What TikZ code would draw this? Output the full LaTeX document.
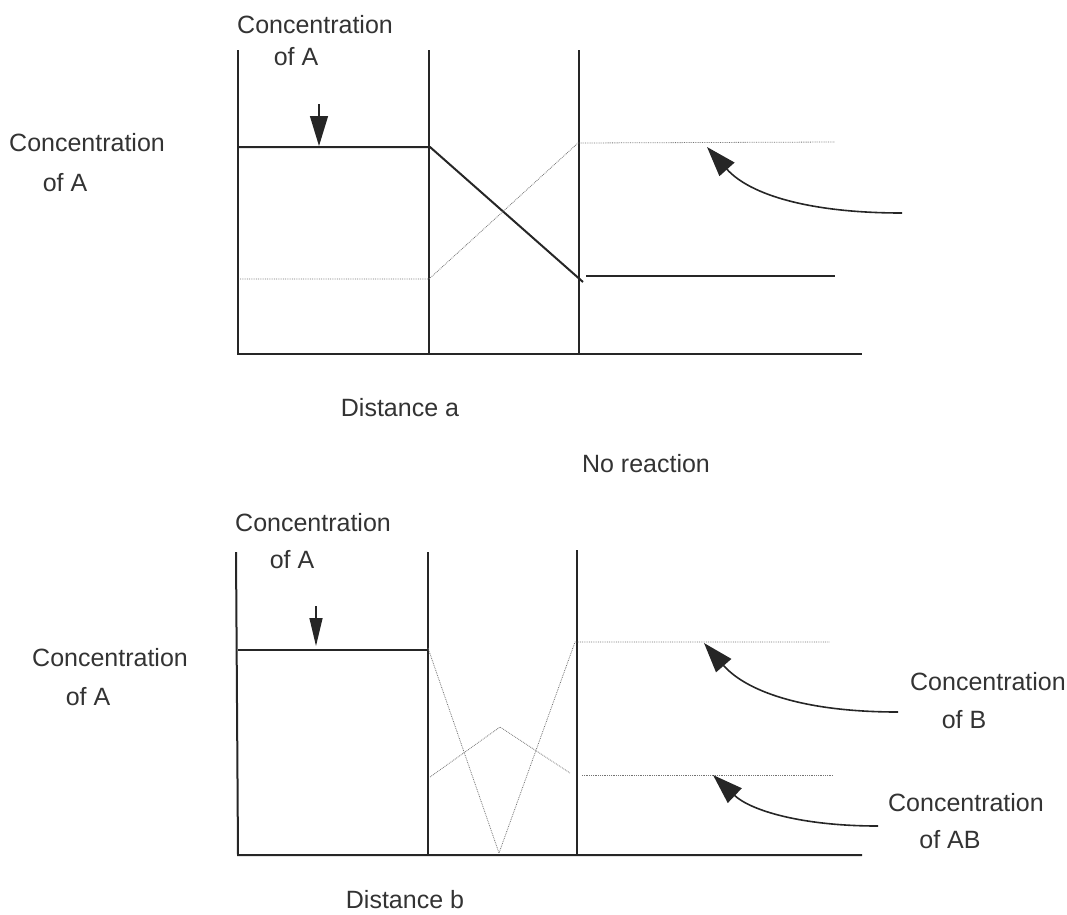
\documentclass[tikz,border=0pt]{standalone}
\usepackage{fontspec}
\setmainfont{Liberation Sans}
\usetikzlibrary{arrows.meta}
\begin{document}
\begin{tikzpicture}[x=1pt,y=-1pt,
  axis/.style={line width=2pt,black!85},
  level/.style={line width=2pt,black!85},
  dotline/.style={line width=0.8pt,black!55,densely dotted},
  lbl/.style={text=black!80,font=\fontsize{25}{29}\selectfont,inner sep=0pt},
  downarrow/.style={line width=1.3pt,black!85,-{Triangle[length=30pt,width=18pt]}},
  smalldown/.style={line width=1.3pt,black!85,-{Triangle[length=28pt,width=13pt]}},
  curvearrow/.style={line width=1.6pt,black!85,-{Triangle[length=30pt,width=20pt]}}]
\useasboundingbox (0,0) rectangle (1067,914);
% ---------------- top panel ----------------
\draw[axis] (238,50) -- (238,354) -- (862,354);
\draw[axis] (429,50) -- (429,354);
\draw[axis] (579,50) -- (579,354);
\draw[level] (238,147) -- (430,147) -- (583,282);
\draw[level] (586,276) -- (835,276);
\draw[dotline] (240,279) -- (429,279) -- (578,143) -- (835,142);
\draw[downarrow] (319,104) -- (319,146);
\coordinate (ta1) at (902,213);
\coordinate (ha1) at (707,147);
\draw[curvearrow] (ta1) .. controls (810,213) and (750,195) .. (ha1);
\node[lbl,anchor=west] (t1) at (237,25) {Concentration};
\node[lbl] (t1b) at (296,57) {of A};
\node[lbl,anchor=west] (l1) at (9,143) {Concentration};
\node[lbl] (l1b) at (65,183) {of A};
\node[lbl] (da) at (400,408) {Distance a};
\node[lbl] (nr) at (646,464) {No reaction};
% ---------------- bottom panel ----------------
\draw[axis] (236,552) -- (238,855) -- (862,855);
\draw[axis] (428,552) -- (428,855);
\draw[axis] (577,550) -- (577,855);
\draw[level] (238,650) -- (428,650);
\draw[dotline] (428,648) -- (499,853) -- (575,642) -- (830,642);
\draw[dotline] (430,777) -- (500,727) -- (570,773);
\draw[dotline] (582,775) -- (833,775);
\draw[smalldown] (316,606) -- (316,646);
\coordinate (tb) at (898,712);
\coordinate (hb) at (704,643);
\draw[curvearrow] (tb) .. controls (800,712) and (745,690) .. (hb);
\coordinate (tab) at (878,826);
\coordinate (hab) at (713,775);
\draw[curvearrow] (tab) .. controls (800,826) and (750,810) .. (hab);
\node[lbl,anchor=west] (t2) at (235,523) {Concentration};
\node[lbl] (t2b) at (292,560) {of A};
\node[lbl,anchor=west] (l2) at (32,658) {Concentration};
\node[lbl] (l2b) at (88,697) {of A};
\node[lbl,anchor=east] (cb) at (1066,682) {Concentration};
\node[lbl] (cbb) at (964,720) {of B};
\node[lbl,anchor=east] (cab) at (1044,803) {Concentration};
\node[lbl] (cabb) at (950,840) {of AB};
\node[lbl] (db) at (405,900) {Distance b};
\end{tikzpicture}
\end{document}
